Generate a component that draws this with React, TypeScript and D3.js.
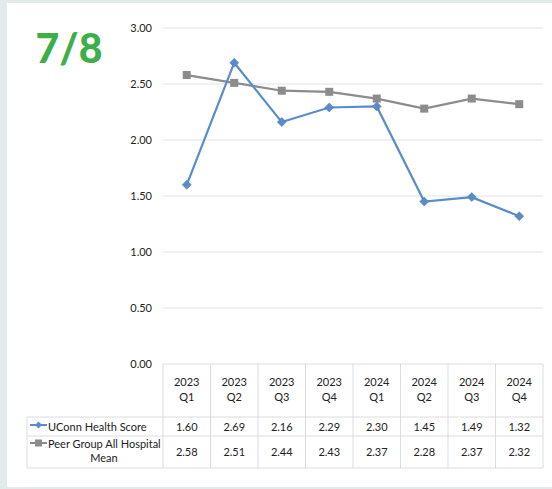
import * as d3 from "d3";

const quarters = ["2023 Q1", "2023 Q2", "2023 Q3", "2023 Q4", "2024 Q1", "2024 Q2", "2024 Q3", "2024 Q4"];
const uconnScores = [1.6, 2.69, 2.16, 2.29, 2.3, 1.45, 1.49, 1.32];
const peerMeans = [2.58, 2.51, 2.44, 2.43, 2.37, 2.28, 2.37, 2.32];
const yTicks = [0, 0.5, 1, 1.5, 2, 2.5, 3];

const width = 552;
const height = 489;
const plotLeft = 163;
const plotRight = 543;
const plotTop = 28;
const plotBottom = 364;
const headerBottom = 417;
const row1Bottom = 436;
const row2Bottom = 468;
const legendLeft = 27;

const blue = "#5a8ccb";
const gray = "#8c8c8c";
const font = "Lato, 'Open Sans', sans-serif";

const App = () => {
  const x = d3.scaleBand<string>().domain(quarters).range([plotLeft, plotRight]);
  const y = d3.scaleLinear().domain([0, 3]).range([plotBottom, plotTop]);
  const cx = (q: string) => (x(q) as number) + x.bandwidth() / 2;

  const line = d3
    .line<number>()
    .x((_, i) => cx(quarters[i]))
    .y((d) => y(d));

  const diamond = (px: number, py: number, s: number) =>
    `M${px},${py - s}L${px + s},${py}L${px},${py + s}L${px - s},${py}Z`;

  const bounds = quarters.map((q) => x(q) as number).concat([plotRight]);
  const tableLine = "#dcdcdc";

  return (
    <svg
      width={width}
      height={height}
      style={{ position: "absolute", left: 0, top: 0 }}
      fontFamily={font}
    >
      <rect x={0} y={0} width={width} height={height} fill="#e2eaeb" />
      <rect x={7} y={3} width={width - 7} height={484} fill="#ffffff" />

      <text x={69} y={63} fontSize={41} fontWeight={900} fill="#3daf49" textAnchor="middle">
        7/8
      </text>

      {yTicks.map((t) => (
        <g key={t}>
          {t > 0 && (
            <line x1={plotLeft} x2={plotRight} y1={y(t)} y2={y(t)} stroke="#e3e3e3" strokeWidth={1} />
          )}
          <text x={152} y={y(t)} dy="0.35em" fontSize={11} textAnchor="end" fill="#222">
            {t.toFixed(2)}
          </text>
        </g>
      ))}

      {/* table grid */}
      <g stroke={tableLine} strokeWidth={1} fill="none">
        <line x1={plotLeft} x2={plotRight} y1={plotBottom} y2={plotBottom} />
        <line x1={legendLeft} x2={plotRight} y1={headerBottom} y2={headerBottom} />
        <line x1={legendLeft} x2={plotRight} y1={row1Bottom} y2={row1Bottom} />
        <line x1={legendLeft} x2={plotRight} y1={row2Bottom} y2={row2Bottom} />
        <line x1={legendLeft} x2={legendLeft} y1={headerBottom} y2={row2Bottom} />
        {bounds.map((b, i) => (
          <line key={i} x1={b} x2={b} y1={plotBottom} y2={row2Bottom} />
        ))}
      </g>

      {quarters.map((q, i) => {
        const [yr, qt] = q.split(" ");
        return (
          <g key={q} fontSize={11} fill="#222" textAnchor="middle">
            <text x={cx(q)} y={386}>{yr}</text>
            <text x={cx(q)} y={401}>{qt}</text>
            <text x={cx(q)} y={431}>{uconnScores[i].toFixed(2)}</text>
            <text x={cx(q)} y={456}>{peerMeans[i].toFixed(2)}</text>
          </g>
        );
      })}

      {/* legend cells */}
      <line x1={30} x2={47} y1={425} y2={425} stroke={blue} strokeWidth={2} />
      <path d={diamond(38.5, 425, 3.5)} fill={blue} />
      <text x={48} y={431} fontSize={11} fill="#222">UConn Health Score</text>
      <line x1={30} x2={47} y1={443} y2={443} stroke={gray} strokeWidth={2} />
      <rect x={35} y={439.5} width={7} height={7} fill={gray} />
      <text x={48} y={448} fontSize={11} fill="#222">Peer Group All Hospital</text>
      <text x={104} y={462} fontSize={11} fill="#222" textAnchor="middle">Mean</text>

      {/* series */}
      <path d={line(peerMeans) as string} fill="none" stroke={gray} strokeWidth={2.2} />
      {peerMeans.map((v, i) => (
        <rect key={i} x={cx(quarters[i]) - 4} y={y(v) - 4} width={8} height={8} fill={gray} />
      ))}
      <path d={line(uconnScores) as string} fill="none" stroke={blue} strokeWidth={2.2} />
      {uconnScores.map((v, i) => (
        <path key={i} d={diamond(cx(quarters[i]), y(v), 4.5)} fill={blue} stroke="#4a78b0" strokeWidth={0.5} />
      ))}
    </svg>
  );
};

export default App;
